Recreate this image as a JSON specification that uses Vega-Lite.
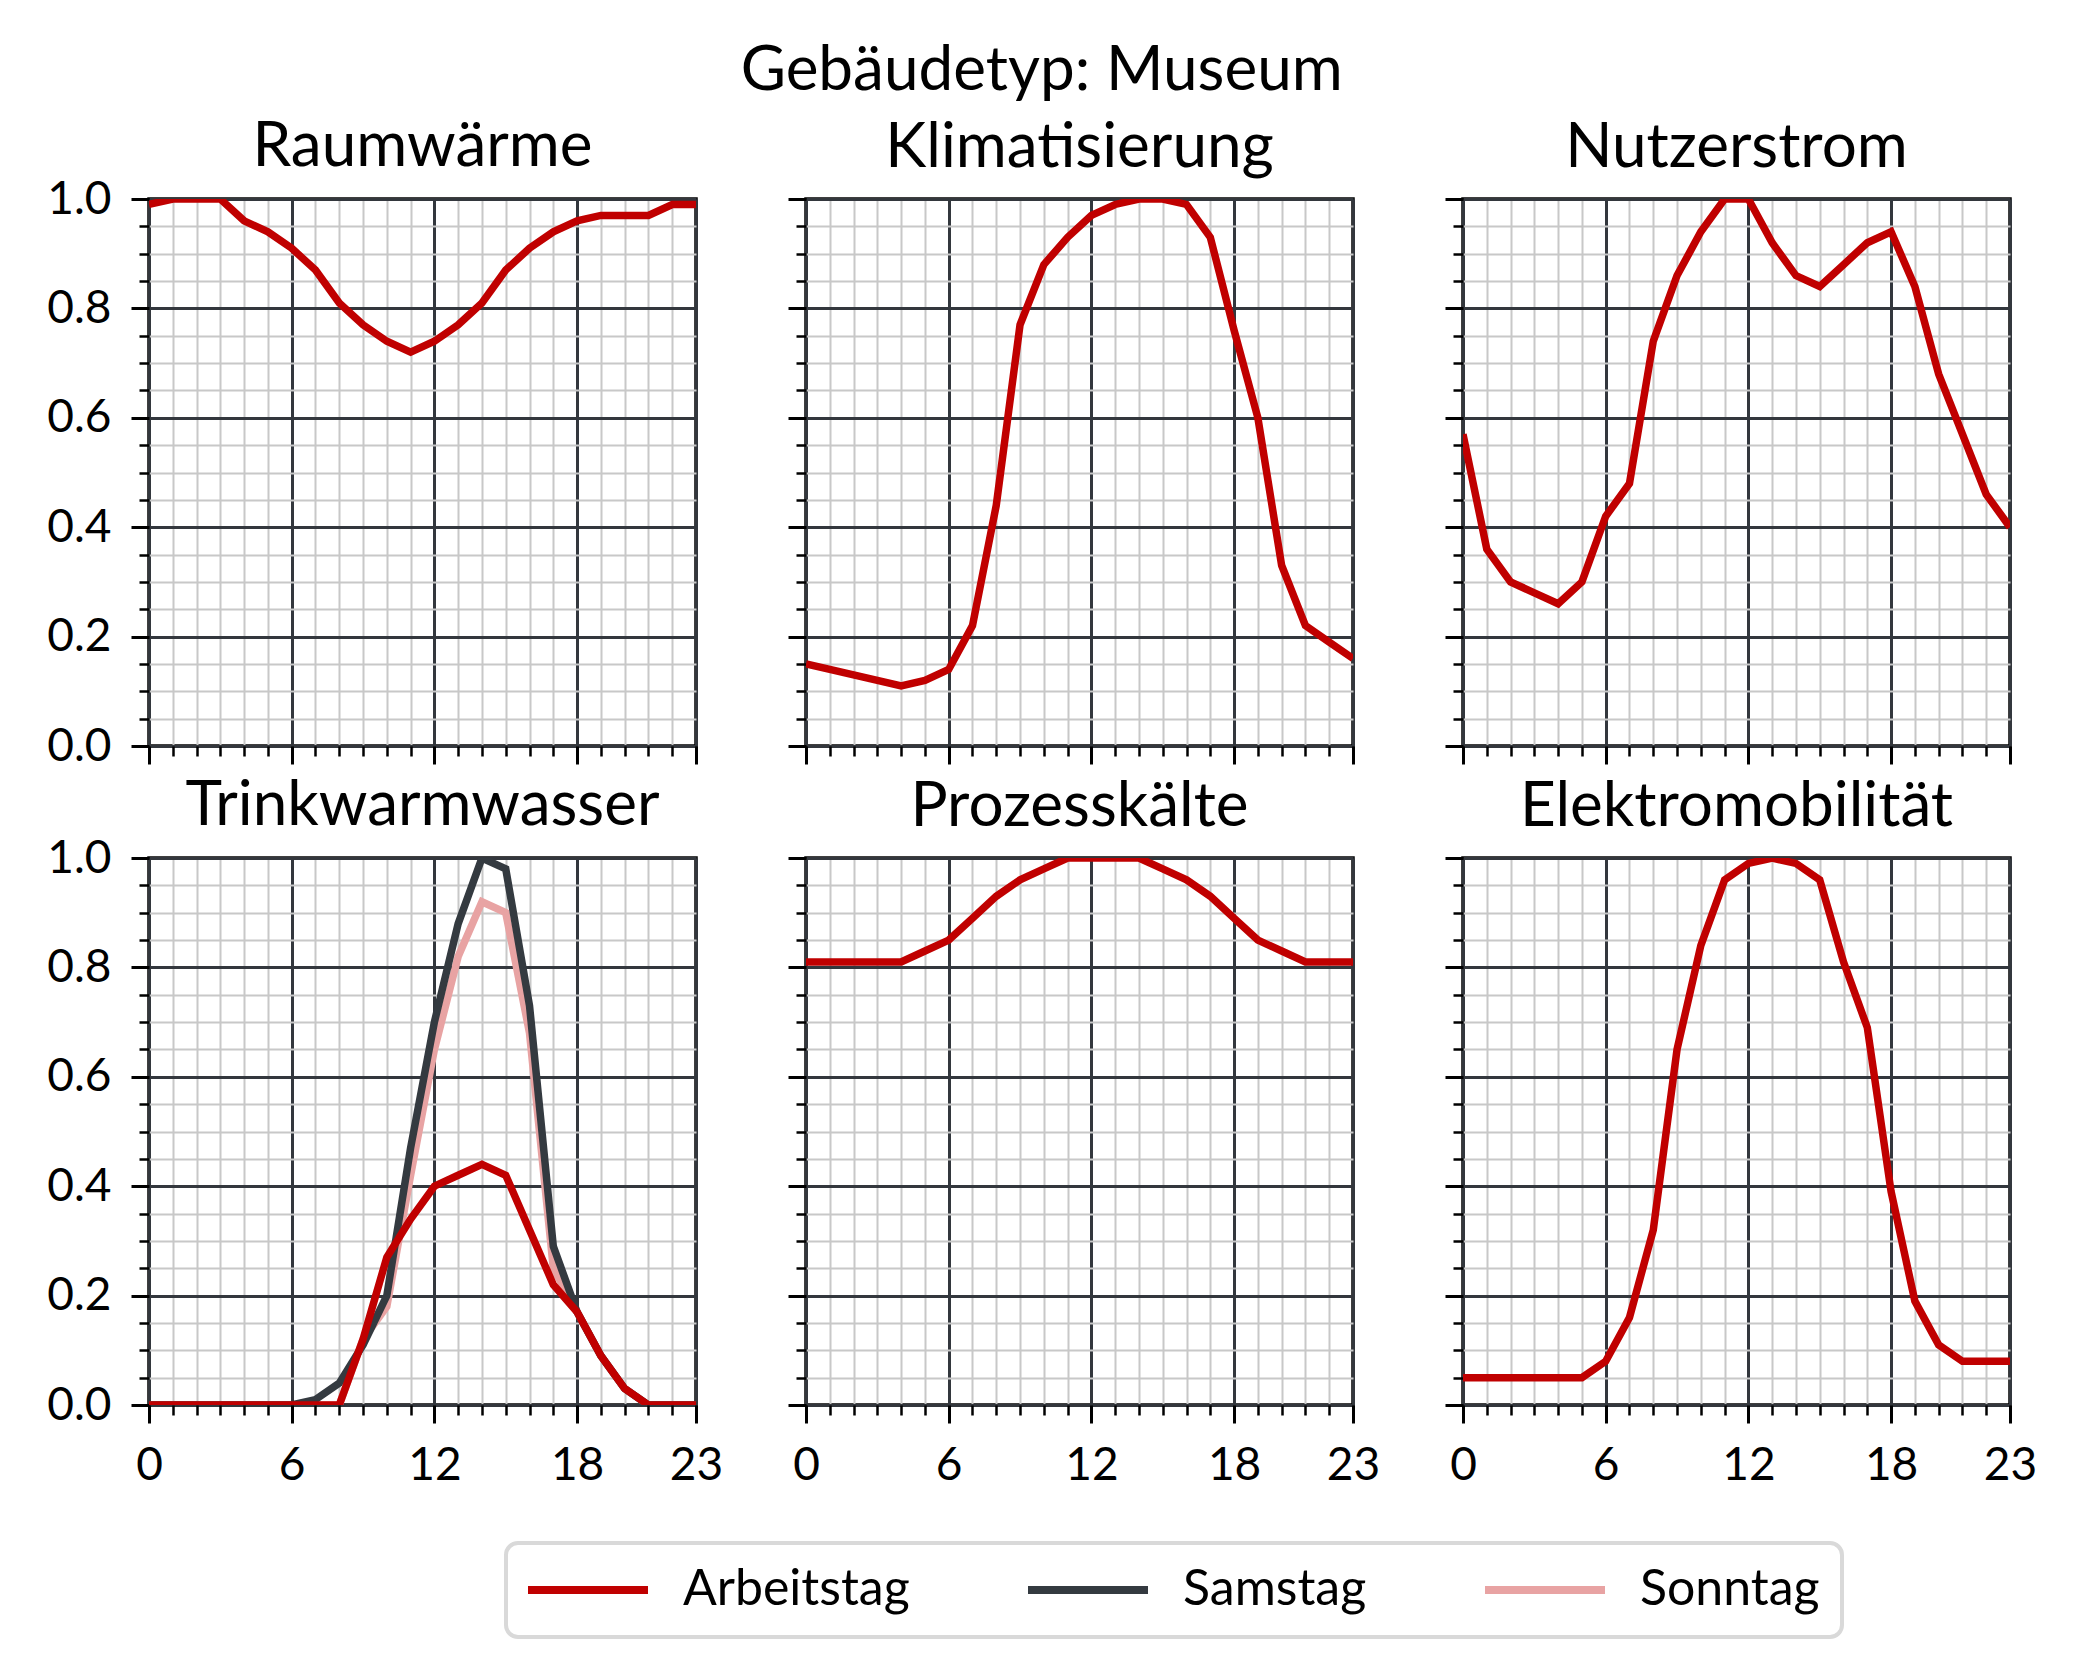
{
"$schema": "https://vega.github.io/schema/vega-lite/v6.json",
"padding": {"left": 45, "top": 40, "right": 5, "bottom": 5},
"background": "white",
"title": {"text": "Gebäudetyp: Museum", "fontSize": 62, "fontWeight": "normal", "font": "Lato", "color": "black", "offset": 11, "anchor": "middle"},
"data": {"values": [
{"c":"Raumwärme","d":"Arbeitstag","h":0,"v":0.99},{"c":"Raumwärme","d":"Arbeitstag","h":1,"v":1.0},{"c":"Raumwärme","d":"Arbeitstag","h":2,"v":1.0},{"c":"Raumwärme","d":"Arbeitstag","h":3,"v":1.0},{"c":"Raumwärme","d":"Arbeitstag","h":4,"v":0.96},{"c":"Raumwärme","d":"Arbeitstag","h":5,"v":0.94},{"c":"Raumwärme","d":"Arbeitstag","h":6,"v":0.91},{"c":"Raumwärme","d":"Arbeitstag","h":7,"v":0.87},{"c":"Raumwärme","d":"Arbeitstag","h":8,"v":0.81},{"c":"Raumwärme","d":"Arbeitstag","h":9,"v":0.77},{"c":"Raumwärme","d":"Arbeitstag","h":10,"v":0.74},{"c":"Raumwärme","d":"Arbeitstag","h":11,"v":0.72},{"c":"Raumwärme","d":"Arbeitstag","h":12,"v":0.74},{"c":"Raumwärme","d":"Arbeitstag","h":13,"v":0.77},{"c":"Raumwärme","d":"Arbeitstag","h":14,"v":0.81},{"c":"Raumwärme","d":"Arbeitstag","h":15,"v":0.87},{"c":"Raumwärme","d":"Arbeitstag","h":16,"v":0.91},{"c":"Raumwärme","d":"Arbeitstag","h":17,"v":0.94},{"c":"Raumwärme","d":"Arbeitstag","h":18,"v":0.96},{"c":"Raumwärme","d":"Arbeitstag","h":19,"v":0.97},{"c":"Raumwärme","d":"Arbeitstag","h":20,"v":0.97},{"c":"Raumwärme","d":"Arbeitstag","h":21,"v":0.97},{"c":"Raumwärme","d":"Arbeitstag","h":22,"v":0.99},{"c":"Raumwärme","d":"Arbeitstag","h":23,"v":0.99},
{"c":"Klimatisierung","d":"Arbeitstag","h":0,"v":0.15},{"c":"Klimatisierung","d":"Arbeitstag","h":1,"v":0.14},{"c":"Klimatisierung","d":"Arbeitstag","h":2,"v":0.13},{"c":"Klimatisierung","d":"Arbeitstag","h":3,"v":0.12},{"c":"Klimatisierung","d":"Arbeitstag","h":4,"v":0.11},{"c":"Klimatisierung","d":"Arbeitstag","h":5,"v":0.12},{"c":"Klimatisierung","d":"Arbeitstag","h":6,"v":0.14},{"c":"Klimatisierung","d":"Arbeitstag","h":7,"v":0.22},{"c":"Klimatisierung","d":"Arbeitstag","h":8,"v":0.44},{"c":"Klimatisierung","d":"Arbeitstag","h":9,"v":0.77},{"c":"Klimatisierung","d":"Arbeitstag","h":10,"v":0.88},{"c":"Klimatisierung","d":"Arbeitstag","h":11,"v":0.93},{"c":"Klimatisierung","d":"Arbeitstag","h":12,"v":0.97},{"c":"Klimatisierung","d":"Arbeitstag","h":13,"v":0.99},{"c":"Klimatisierung","d":"Arbeitstag","h":14,"v":1.0},{"c":"Klimatisierung","d":"Arbeitstag","h":15,"v":1.0},{"c":"Klimatisierung","d":"Arbeitstag","h":16,"v":0.99},{"c":"Klimatisierung","d":"Arbeitstag","h":17,"v":0.93},{"c":"Klimatisierung","d":"Arbeitstag","h":18,"v":0.76},{"c":"Klimatisierung","d":"Arbeitstag","h":19,"v":0.6},{"c":"Klimatisierung","d":"Arbeitstag","h":20,"v":0.33},{"c":"Klimatisierung","d":"Arbeitstag","h":21,"v":0.22},{"c":"Klimatisierung","d":"Arbeitstag","h":22,"v":0.19},{"c":"Klimatisierung","d":"Arbeitstag","h":23,"v":0.16},
{"c":"Nutzerstrom","d":"Arbeitstag","h":0,"v":0.57},{"c":"Nutzerstrom","d":"Arbeitstag","h":1,"v":0.36},{"c":"Nutzerstrom","d":"Arbeitstag","h":2,"v":0.3},{"c":"Nutzerstrom","d":"Arbeitstag","h":3,"v":0.28},{"c":"Nutzerstrom","d":"Arbeitstag","h":4,"v":0.26},{"c":"Nutzerstrom","d":"Arbeitstag","h":5,"v":0.3},{"c":"Nutzerstrom","d":"Arbeitstag","h":6,"v":0.42},{"c":"Nutzerstrom","d":"Arbeitstag","h":7,"v":0.48},{"c":"Nutzerstrom","d":"Arbeitstag","h":8,"v":0.74},{"c":"Nutzerstrom","d":"Arbeitstag","h":9,"v":0.86},{"c":"Nutzerstrom","d":"Arbeitstag","h":10,"v":0.94},{"c":"Nutzerstrom","d":"Arbeitstag","h":11,"v":1.0},{"c":"Nutzerstrom","d":"Arbeitstag","h":12,"v":1.0},{"c":"Nutzerstrom","d":"Arbeitstag","h":13,"v":0.92},{"c":"Nutzerstrom","d":"Arbeitstag","h":14,"v":0.86},{"c":"Nutzerstrom","d":"Arbeitstag","h":15,"v":0.84},{"c":"Nutzerstrom","d":"Arbeitstag","h":16,"v":0.88},{"c":"Nutzerstrom","d":"Arbeitstag","h":17,"v":0.92},{"c":"Nutzerstrom","d":"Arbeitstag","h":18,"v":0.94},{"c":"Nutzerstrom","d":"Arbeitstag","h":19,"v":0.84},{"c":"Nutzerstrom","d":"Arbeitstag","h":20,"v":0.68},{"c":"Nutzerstrom","d":"Arbeitstag","h":21,"v":0.57},{"c":"Nutzerstrom","d":"Arbeitstag","h":22,"v":0.46},{"c":"Nutzerstrom","d":"Arbeitstag","h":23,"v":0.4},
{"c":"Trinkwarmwasser","d":"Sonntag","h":0,"v":0},{"c":"Trinkwarmwasser","d":"Sonntag","h":1,"v":0},{"c":"Trinkwarmwasser","d":"Sonntag","h":2,"v":0},{"c":"Trinkwarmwasser","d":"Sonntag","h":3,"v":0},{"c":"Trinkwarmwasser","d":"Sonntag","h":4,"v":0},{"c":"Trinkwarmwasser","d":"Sonntag","h":5,"v":0},{"c":"Trinkwarmwasser","d":"Sonntag","h":6,"v":0},{"c":"Trinkwarmwasser","d":"Sonntag","h":7,"v":0},{"c":"Trinkwarmwasser","d":"Sonntag","h":8,"v":0},{"c":"Trinkwarmwasser","d":"Sonntag","h":9,"v":0.12},{"c":"Trinkwarmwasser","d":"Sonntag","h":10,"v":0.18},{"c":"Trinkwarmwasser","d":"Sonntag","h":11,"v":0.42},{"c":"Trinkwarmwasser","d":"Sonntag","h":12,"v":0.65},{"c":"Trinkwarmwasser","d":"Sonntag","h":13,"v":0.82},{"c":"Trinkwarmwasser","d":"Sonntag","h":14,"v":0.92},{"c":"Trinkwarmwasser","d":"Sonntag","h":15,"v":0.9},{"c":"Trinkwarmwasser","d":"Sonntag","h":16,"v":0.68},{"c":"Trinkwarmwasser","d":"Sonntag","h":17,"v":0.25},{"c":"Trinkwarmwasser","d":"Sonntag","h":18,"v":0.17},{"c":"Trinkwarmwasser","d":"Sonntag","h":19,"v":0.09},{"c":"Trinkwarmwasser","d":"Sonntag","h":20,"v":0.03},{"c":"Trinkwarmwasser","d":"Sonntag","h":21,"v":0},{"c":"Trinkwarmwasser","d":"Sonntag","h":22,"v":0},{"c":"Trinkwarmwasser","d":"Sonntag","h":23,"v":0},
{"c":"Trinkwarmwasser","d":"Samstag","h":0,"v":0},{"c":"Trinkwarmwasser","d":"Samstag","h":1,"v":0},{"c":"Trinkwarmwasser","d":"Samstag","h":2,"v":0},{"c":"Trinkwarmwasser","d":"Samstag","h":3,"v":0},{"c":"Trinkwarmwasser","d":"Samstag","h":4,"v":0},{"c":"Trinkwarmwasser","d":"Samstag","h":5,"v":0},{"c":"Trinkwarmwasser","d":"Samstag","h":6,"v":0},{"c":"Trinkwarmwasser","d":"Samstag","h":7,"v":0.01},{"c":"Trinkwarmwasser","d":"Samstag","h":8,"v":0.04},{"c":"Trinkwarmwasser","d":"Samstag","h":9,"v":0.11},{"c":"Trinkwarmwasser","d":"Samstag","h":10,"v":0.2},{"c":"Trinkwarmwasser","d":"Samstag","h":11,"v":0.47},{"c":"Trinkwarmwasser","d":"Samstag","h":12,"v":0.7},{"c":"Trinkwarmwasser","d":"Samstag","h":13,"v":0.88},{"c":"Trinkwarmwasser","d":"Samstag","h":14,"v":1.0},{"c":"Trinkwarmwasser","d":"Samstag","h":15,"v":0.98},{"c":"Trinkwarmwasser","d":"Samstag","h":16,"v":0.73},{"c":"Trinkwarmwasser","d":"Samstag","h":17,"v":0.29},{"c":"Trinkwarmwasser","d":"Samstag","h":18,"v":0.17},{"c":"Trinkwarmwasser","d":"Samstag","h":19,"v":0.09},{"c":"Trinkwarmwasser","d":"Samstag","h":20,"v":0.03},{"c":"Trinkwarmwasser","d":"Samstag","h":21,"v":0},{"c":"Trinkwarmwasser","d":"Samstag","h":22,"v":0},{"c":"Trinkwarmwasser","d":"Samstag","h":23,"v":0},
{"c":"Trinkwarmwasser","d":"Arbeitstag","h":0,"v":0},{"c":"Trinkwarmwasser","d":"Arbeitstag","h":1,"v":0},{"c":"Trinkwarmwasser","d":"Arbeitstag","h":2,"v":0},{"c":"Trinkwarmwasser","d":"Arbeitstag","h":3,"v":0},{"c":"Trinkwarmwasser","d":"Arbeitstag","h":4,"v":0},{"c":"Trinkwarmwasser","d":"Arbeitstag","h":5,"v":0},{"c":"Trinkwarmwasser","d":"Arbeitstag","h":6,"v":0},{"c":"Trinkwarmwasser","d":"Arbeitstag","h":7,"v":0},{"c":"Trinkwarmwasser","d":"Arbeitstag","h":8,"v":0},{"c":"Trinkwarmwasser","d":"Arbeitstag","h":9,"v":0.12},{"c":"Trinkwarmwasser","d":"Arbeitstag","h":10,"v":0.27},{"c":"Trinkwarmwasser","d":"Arbeitstag","h":11,"v":0.34},{"c":"Trinkwarmwasser","d":"Arbeitstag","h":12,"v":0.4},{"c":"Trinkwarmwasser","d":"Arbeitstag","h":13,"v":0.42},{"c":"Trinkwarmwasser","d":"Arbeitstag","h":14,"v":0.44},{"c":"Trinkwarmwasser","d":"Arbeitstag","h":15,"v":0.42},{"c":"Trinkwarmwasser","d":"Arbeitstag","h":16,"v":0.32},{"c":"Trinkwarmwasser","d":"Arbeitstag","h":17,"v":0.22},{"c":"Trinkwarmwasser","d":"Arbeitstag","h":18,"v":0.17},{"c":"Trinkwarmwasser","d":"Arbeitstag","h":19,"v":0.09},{"c":"Trinkwarmwasser","d":"Arbeitstag","h":20,"v":0.03},{"c":"Trinkwarmwasser","d":"Arbeitstag","h":21,"v":0},{"c":"Trinkwarmwasser","d":"Arbeitstag","h":22,"v":0},{"c":"Trinkwarmwasser","d":"Arbeitstag","h":23,"v":0},
{"c":"Prozesskälte","d":"Arbeitstag","h":0,"v":0.81},{"c":"Prozesskälte","d":"Arbeitstag","h":1,"v":0.81},{"c":"Prozesskälte","d":"Arbeitstag","h":2,"v":0.81},{"c":"Prozesskälte","d":"Arbeitstag","h":3,"v":0.81},{"c":"Prozesskälte","d":"Arbeitstag","h":4,"v":0.81},{"c":"Prozesskälte","d":"Arbeitstag","h":5,"v":0.83},{"c":"Prozesskälte","d":"Arbeitstag","h":6,"v":0.85},{"c":"Prozesskälte","d":"Arbeitstag","h":7,"v":0.89},{"c":"Prozesskälte","d":"Arbeitstag","h":8,"v":0.93},{"c":"Prozesskälte","d":"Arbeitstag","h":9,"v":0.96},{"c":"Prozesskälte","d":"Arbeitstag","h":10,"v":0.98},{"c":"Prozesskälte","d":"Arbeitstag","h":11,"v":1.0},{"c":"Prozesskälte","d":"Arbeitstag","h":12,"v":1.0},{"c":"Prozesskälte","d":"Arbeitstag","h":13,"v":1.0},{"c":"Prozesskälte","d":"Arbeitstag","h":14,"v":1.0},{"c":"Prozesskälte","d":"Arbeitstag","h":15,"v":0.98},{"c":"Prozesskälte","d":"Arbeitstag","h":16,"v":0.96},{"c":"Prozesskälte","d":"Arbeitstag","h":17,"v":0.93},{"c":"Prozesskälte","d":"Arbeitstag","h":18,"v":0.89},{"c":"Prozesskälte","d":"Arbeitstag","h":19,"v":0.85},{"c":"Prozesskälte","d":"Arbeitstag","h":20,"v":0.83},{"c":"Prozesskälte","d":"Arbeitstag","h":21,"v":0.81},{"c":"Prozesskälte","d":"Arbeitstag","h":22,"v":0.81},{"c":"Prozesskälte","d":"Arbeitstag","h":23,"v":0.81},
{"c":"Elektromobilität","d":"Arbeitstag","h":0,"v":0.05},{"c":"Elektromobilität","d":"Arbeitstag","h":1,"v":0.05},{"c":"Elektromobilität","d":"Arbeitstag","h":2,"v":0.05},{"c":"Elektromobilität","d":"Arbeitstag","h":3,"v":0.05},{"c":"Elektromobilität","d":"Arbeitstag","h":4,"v":0.05},{"c":"Elektromobilität","d":"Arbeitstag","h":5,"v":0.05},{"c":"Elektromobilität","d":"Arbeitstag","h":6,"v":0.08},{"c":"Elektromobilität","d":"Arbeitstag","h":7,"v":0.16},{"c":"Elektromobilität","d":"Arbeitstag","h":8,"v":0.32},{"c":"Elektromobilität","d":"Arbeitstag","h":9,"v":0.65},{"c":"Elektromobilität","d":"Arbeitstag","h":10,"v":0.84},{"c":"Elektromobilität","d":"Arbeitstag","h":11,"v":0.96},{"c":"Elektromobilität","d":"Arbeitstag","h":12,"v":0.99},{"c":"Elektromobilität","d":"Arbeitstag","h":13,"v":1.0},{"c":"Elektromobilität","d":"Arbeitstag","h":14,"v":0.99},{"c":"Elektromobilität","d":"Arbeitstag","h":15,"v":0.96},{"c":"Elektromobilität","d":"Arbeitstag","h":16,"v":0.81},{"c":"Elektromobilität","d":"Arbeitstag","h":17,"v":0.69},{"c":"Elektromobilität","d":"Arbeitstag","h":18,"v":0.39},{"c":"Elektromobilität","d":"Arbeitstag","h":19,"v":0.19},{"c":"Elektromobilität","d":"Arbeitstag","h":20,"v":0.11},{"c":"Elektromobilität","d":"Arbeitstag","h":21,"v":0.08},{"c":"Elektromobilität","d":"Arbeitstag","h":22,"v":0.08},{"c":"Elektromobilität","d":"Arbeitstag","h":23,"v":0.08}
]},
"columns": 3,
"bounds": "flush",
"spacing": {"row": 112, "column": 110},
"concat": [
{"title": {"text": "Raumwärme", "offset": -3}, "width": 547, "height": 547, "resolve": {"axis": {"x": "independent", "y": "independent"}},
 "transform": [{"filter": "datum.c === 'Raumwärme'"}],
 "layer": [
  {"mark": {"type": "line", "strokeOpacity": 0},
   "encoding": {
    "x": {"field": "h", "type": "quantitative", "scale": {"domain": [0, 23], "nice": false, "zero": false}, "axis": {"orient": "bottom", "grid": true, "values": [1,2,3,4,5,7,8,9,10,11,13,14,15,16,17,19,20,21,22], "gridColor": "#c8c8c8", "gridWidth": 2, "tickSize": 10, "tickWidth": 2.5, "labels": false}},
    "y": {"field": "v", "type": "quantitative", "scale": {"domain": [0, 1], "nice": false, "zero": false}, "axis": {"orient": "left", "grid": true, "values": [0.05,0.1,0.15,0.25,0.3,0.35,0.45,0.5,0.55,0.65,0.7,0.75,0.85,0.9,0.95], "gridColor": "#c8c8c8", "gridWidth": 2, "tickSize": 10, "tickWidth": 2.5, "labels": false}}}},
  {"mark": {"type": "line", "strokeWidth": 7.5, "clip": true},
   "encoding": {
    "x": {"field": "h", "type": "quantitative", "axis": {"orient": "bottom", "grid": true, "gridColor": "#33373d", "values": [0,6,12,18,23], "labels": false}},
    "y": {"field": "v", "type": "quantitative", "axis": {"orient": "left", "grid": true, "gridColor": "#33373d", "values": [0,0.2,0.4,0.6,0.8,1], "format": ".1f", "labels": true}},
    "color": {"field": "d", "type": "nominal", "scale": {"domain": ["Arbeitstag", "Samstag", "Sonntag"], "range": ["#c00000", "#343a40", "#e8a3a3"]}}}}
 ]},
{"title": {"text": "Klimatisierung", "offset": 18}, "width": 547, "height": 547, "resolve": {"axis": {"x": "independent", "y": "independent"}},
 "transform": [{"filter": "datum.c === 'Klimatisierung'"}],
 "layer": [
  {"mark": {"type": "line", "strokeOpacity": 0},
   "encoding": {
    "x": {"field": "h", "type": "quantitative", "scale": {"domain": [0, 23], "nice": false, "zero": false}, "axis": {"orient": "bottom", "grid": true, "values": [1,2,3,4,5,7,8,9,10,11,13,14,15,16,17,19,20,21,22], "gridColor": "#c8c8c8", "gridWidth": 2, "tickSize": 10, "tickWidth": 2.5, "labels": false}},
    "y": {"field": "v", "type": "quantitative", "scale": {"domain": [0, 1], "nice": false, "zero": false}, "axis": {"orient": "left", "grid": true, "values": [0.05,0.1,0.15,0.25,0.3,0.35,0.45,0.5,0.55,0.65,0.7,0.75,0.85,0.9,0.95], "gridColor": "#c8c8c8", "gridWidth": 2, "tickSize": 10, "tickWidth": 2.5, "labels": false}}}},
  {"mark": {"type": "line", "strokeWidth": 7.5, "clip": true},
   "encoding": {
    "x": {"field": "h", "type": "quantitative", "axis": {"orient": "bottom", "grid": true, "gridColor": "#33373d", "values": [0,6,12,18,23], "labels": false}},
    "y": {"field": "v", "type": "quantitative", "axis": {"orient": "left", "grid": true, "gridColor": "#33373d", "values": [0,0.2,0.4,0.6,0.8,1], "format": ".1f", "labels": false}},
    "color": {"field": "d", "type": "nominal", "scale": {"domain": ["Arbeitstag", "Samstag", "Sonntag"], "range": ["#c00000", "#343a40", "#e8a3a3"]}}}}
 ]},
{"title": {"text": "Nutzerstrom", "offset": 18}, "width": 547, "height": 547, "resolve": {"axis": {"x": "independent", "y": "independent"}},
 "transform": [{"filter": "datum.c === 'Nutzerstrom'"}],
 "layer": [
  {"mark": {"type": "line", "strokeOpacity": 0},
   "encoding": {
    "x": {"field": "h", "type": "quantitative", "scale": {"domain": [0, 23], "nice": false, "zero": false}, "axis": {"orient": "bottom", "grid": true, "values": [1,2,3,4,5,7,8,9,10,11,13,14,15,16,17,19,20,21,22], "gridColor": "#c8c8c8", "gridWidth": 2, "tickSize": 10, "tickWidth": 2.5, "labels": false}},
    "y": {"field": "v", "type": "quantitative", "scale": {"domain": [0, 1], "nice": false, "zero": false}, "axis": {"orient": "left", "grid": true, "values": [0.05,0.1,0.15,0.25,0.3,0.35,0.45,0.5,0.55,0.65,0.7,0.75,0.85,0.9,0.95], "gridColor": "#c8c8c8", "gridWidth": 2, "tickSize": 10, "tickWidth": 2.5, "labels": false}}}},
  {"mark": {"type": "line", "strokeWidth": 7.5, "clip": true},
   "encoding": {
    "x": {"field": "h", "type": "quantitative", "axis": {"orient": "bottom", "grid": true, "gridColor": "#33373d", "values": [0,6,12,18,23], "labels": false}},
    "y": {"field": "v", "type": "quantitative", "axis": {"orient": "left", "grid": true, "gridColor": "#33373d", "values": [0,0.2,0.4,0.6,0.8,1], "format": ".1f", "labels": false}},
    "color": {"field": "d", "type": "nominal", "scale": {"domain": ["Arbeitstag", "Samstag", "Sonntag"], "range": ["#c00000", "#343a40", "#e8a3a3"]}}}}
 ]},
{"title": {"text": "Trinkwarmwasser", "offset": -3}, "width": 547, "height": 547, "resolve": {"axis": {"x": "independent", "y": "independent"}},
 "transform": [{"filter": "datum.c === 'Trinkwarmwasser'"}],
 "layer": [
  {"mark": {"type": "line", "strokeOpacity": 0},
   "encoding": {
    "x": {"field": "h", "type": "quantitative", "scale": {"domain": [0, 23], "nice": false, "zero": false}, "axis": {"orient": "bottom", "grid": true, "values": [1,2,3,4,5,7,8,9,10,11,13,14,15,16,17,19,20,21,22], "gridColor": "#c8c8c8", "gridWidth": 2, "tickSize": 10, "tickWidth": 2.5, "labels": false}},
    "y": {"field": "v", "type": "quantitative", "scale": {"domain": [0, 1], "nice": false, "zero": false}, "axis": {"orient": "left", "grid": true, "values": [0.05,0.1,0.15,0.25,0.3,0.35,0.45,0.5,0.55,0.65,0.7,0.75,0.85,0.9,0.95], "gridColor": "#c8c8c8", "gridWidth": 2, "tickSize": 10, "tickWidth": 2.5, "labels": false}}}},
  {"mark": {"type": "line", "strokeWidth": 7.5, "clip": true},
   "encoding": {
    "x": {"field": "h", "type": "quantitative", "axis": {"orient": "bottom", "grid": true, "gridColor": "#33373d", "values": [0,6,12,18,23], "labels": true}},
    "y": {"field": "v", "type": "quantitative", "axis": {"orient": "left", "grid": true, "gridColor": "#33373d", "values": [0,0.2,0.4,0.6,0.8,1], "format": ".1f", "labels": true}},
    "color": {"field": "d", "type": "nominal", "scale": {"domain": ["Arbeitstag", "Samstag", "Sonntag"], "range": ["#c00000", "#343a40", "#e8a3a3"]}}}}
 ]},
{"title": {"text": "Prozesskälte", "offset": 18}, "width": 547, "height": 547, "resolve": {"axis": {"x": "independent", "y": "independent"}},
 "transform": [{"filter": "datum.c === 'Prozesskälte'"}],
 "layer": [
  {"mark": {"type": "line", "strokeOpacity": 0},
   "encoding": {
    "x": {"field": "h", "type": "quantitative", "scale": {"domain": [0, 23], "nice": false, "zero": false}, "axis": {"orient": "bottom", "grid": true, "values": [1,2,3,4,5,7,8,9,10,11,13,14,15,16,17,19,20,21,22], "gridColor": "#c8c8c8", "gridWidth": 2, "tickSize": 10, "tickWidth": 2.5, "labels": false}},
    "y": {"field": "v", "type": "quantitative", "scale": {"domain": [0, 1], "nice": false, "zero": false}, "axis": {"orient": "left", "grid": true, "values": [0.05,0.1,0.15,0.25,0.3,0.35,0.45,0.5,0.55,0.65,0.7,0.75,0.85,0.9,0.95], "gridColor": "#c8c8c8", "gridWidth": 2, "tickSize": 10, "tickWidth": 2.5, "labels": false}}}},
  {"mark": {"type": "line", "strokeWidth": 7.5, "clip": true},
   "encoding": {
    "x": {"field": "h", "type": "quantitative", "axis": {"orient": "bottom", "grid": true, "gridColor": "#33373d", "values": [0,6,12,18,23], "labels": true}},
    "y": {"field": "v", "type": "quantitative", "axis": {"orient": "left", "grid": true, "gridColor": "#33373d", "values": [0,0.2,0.4,0.6,0.8,1], "format": ".1f", "labels": false}},
    "color": {"field": "d", "type": "nominal", "scale": {"domain": ["Arbeitstag", "Samstag", "Sonntag"], "range": ["#c00000", "#343a40", "#e8a3a3"]}}}}
 ]},
{"title": {"text": "Elektromobilität", "offset": 18}, "width": 547, "height": 547, "resolve": {"axis": {"x": "independent", "y": "independent"}},
 "transform": [{"filter": "datum.c === 'Elektromobilität'"}],
 "layer": [
  {"mark": {"type": "line", "strokeOpacity": 0},
   "encoding": {
    "x": {"field": "h", "type": "quantitative", "scale": {"domain": [0, 23], "nice": false, "zero": false}, "axis": {"orient": "bottom", "grid": true, "values": [1,2,3,4,5,7,8,9,10,11,13,14,15,16,17,19,20,21,22], "gridColor": "#c8c8c8", "gridWidth": 2, "tickSize": 10, "tickWidth": 2.5, "labels": false}},
    "y": {"field": "v", "type": "quantitative", "scale": {"domain": [0, 1], "nice": false, "zero": false}, "axis": {"orient": "left", "grid": true, "values": [0.05,0.1,0.15,0.25,0.3,0.35,0.45,0.5,0.55,0.65,0.7,0.75,0.85,0.9,0.95], "gridColor": "#c8c8c8", "gridWidth": 2, "tickSize": 10, "tickWidth": 2.5, "labels": false}}}},
  {"mark": {"type": "line", "strokeWidth": 7.5, "clip": true},
   "encoding": {
    "x": {"field": "h", "type": "quantitative", "axis": {"orient": "bottom", "grid": true, "gridColor": "#33373d", "values": [0,6,12,18,23], "labels": true}},
    "y": {"field": "v", "type": "quantitative", "axis": {"orient": "left", "grid": true, "gridColor": "#33373d", "values": [0,0.2,0.4,0.6,0.8,1], "format": ".1f", "labels": false}},
    "color": {"field": "d", "type": "nominal", "scale": {"domain": ["Arbeitstag", "Samstag", "Sonntag"], "range": ["#c00000", "#343a40", "#e8a3a3"]}}}}
 ]}
],
"config": {
 "font": "Lato",
 "view": {"stroke": "black", "strokeWidth": 3.5},
 "title": {"font": "Lato", "fontSize": 62, "fontWeight": "normal", "color": "black", "anchor": "middle"},
 "axis": {"grid": true, "gridColor": "#33373d", "gridWidth": 3, "gridOpacity": 1, "domain": false, "ticks": true, "tickSize": 18, "tickWidth": 3, "tickColor": "black", "labelFont": "Lato", "labelFontSize": 46, "labelColor": "black", "labelPadding": 20, "labelFlush": false, "labelOverlap": false, "labelBound": false, "title": null},
 "legend": {"orient": "none", "legendX": 357, "legendY": 1344, "direction": "horizontal", "columns": 3, "title": null, "symbolType": "M-2.857,0H2.857", "symbolSize": 1764, "symbolStrokeWidth": 8, "symbolOffset": 35, "labelFont": "Lato", "labelFontSize": 50, "labelColor": "black", "labelOffset": 70, "labelLimit": 600, "columnPadding": 102, "padding": 22, "strokeColor": "#d9d9d9", "strokeWidth": 4, "cornerRadius": 12, "fillColor": "white"}
}
}
